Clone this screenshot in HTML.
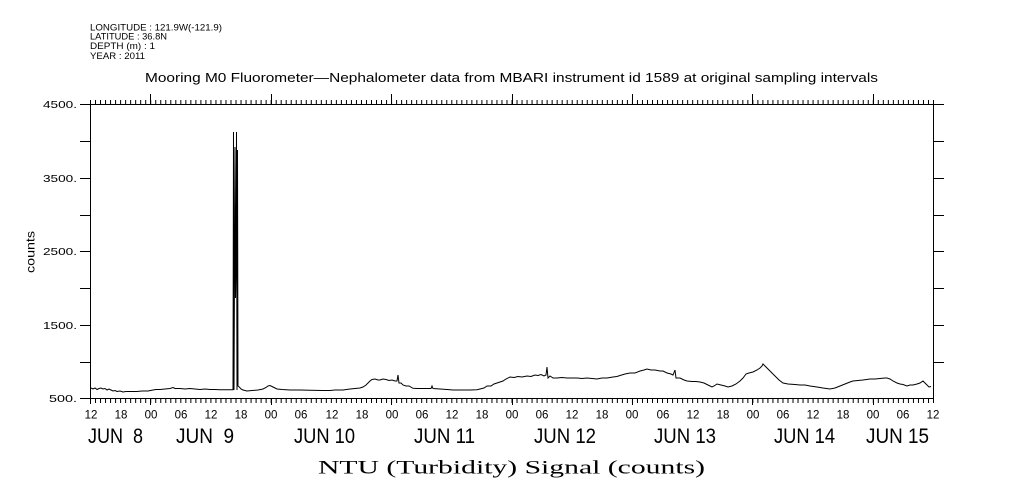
<!DOCTYPE html>
<html><head><meta charset="utf-8"><style>
html,body{margin:0;padding:0;background:#fff;}
svg{display:block;}
text{font-family:"Liberation Sans",sans-serif;fill:#000;}
</style></head><body>
<svg width="1009" height="504" viewBox="0 0 1009 504" xmlns="http://www.w3.org/2000/svg">
<rect width="1009" height="504" fill="#fff"/>
<!-- header -->
<g font-size="9">
<text x="90" y="30.5" textLength="132" lengthAdjust="spacingAndGlyphs">LONGITUDE : 121.9W(-121.9)</text>
<text x="90" y="39.5" textLength="77" lengthAdjust="spacingAndGlyphs">LATITUDE : 36.8N</text>
<text x="90" y="49" textLength="65" lengthAdjust="spacingAndGlyphs">DEPTH (m) : 1</text>
<text x="90" y="59" textLength="55" lengthAdjust="spacingAndGlyphs">YEAR : 2011</text>
</g>
<text x="145" y="82" font-size="12.5" textLength="733" lengthAdjust="spacingAndGlyphs">Mooring M0 Fluorometer—Nephalometer data from MBARI instrument id 1589 at original sampling intervals</text>

<!-- axes box -->
<g stroke="#000" stroke-width="1" fill="none" shape-rendering="crispEdges">
<rect x="90.5" y="104.5" width="843" height="294"/>
<!-- left ticks -->
<path d="M80 104.5H90M80 141.5H90M80 178.5H90M80 215.5H90M80 251.5H90M80 288.5H90M80 325.5H90M80 362.5H90M80 398.5H90"/>
<!-- right ticks -->
<path d="M934 104.5H944M934 141.5H944M934 178.5H944M934 215.5H944M934 251.5H944M934 288.5H944M934 325.5H944M934 362.5H944"/>
<path d="M90.5 398V404M933.5 398V402"/>
<!-- major x ticks top -->
<path d="M150.5 94V104M271.5 94V104M391.5 94V104M512.5 94V104M632.5 94V104M752.5 94V104M873.5 94V104"/>
<!-- major x ticks bottom -->
<path d="M150.5 399V405M271.5 399V405M391.5 399V405M512.5 399V405M632.5 399V405M752.5 399V405M873.5 399V405"/>
</g>
<!-- minor hourly ticks via dash -->
<line x1="90" y1="102" x2="935" y2="102" stroke="#000" stroke-width="4" stroke-dasharray="1 4.0179"/>
<line x1="90" y1="400.5" x2="935" y2="400.5" stroke="#000" stroke-width="5" stroke-dasharray="1 4.0179"/>

<!-- y tick labels -->
<g font-size="10.5" text-anchor="end">
<text x="77" y="108" textLength="34" lengthAdjust="spacingAndGlyphs">4500.</text>
<text x="77" y="182" textLength="34" lengthAdjust="spacingAndGlyphs">3500.</text>
<text x="77" y="255" textLength="34" lengthAdjust="spacingAndGlyphs">2500.</text>
<text x="77" y="329" textLength="34" lengthAdjust="spacingAndGlyphs">1500.</text>
<text x="77" y="402" textLength="28" lengthAdjust="spacingAndGlyphs">500.</text>
</g>
<text transform="translate(34.5,252) rotate(-90)" font-size="12" text-anchor="middle" textLength="42" lengthAdjust="spacingAndGlyphs">counts</text>

<!-- x tick labels -->
<g font-size="11.5" text-anchor="middle">
<text x="91" y="418.5">12</text><text x="121" y="418.5">18</text><text x="151" y="418.5">00</text><text x="181" y="418.5">06</text>
<text x="211" y="418.5">12</text><text x="241" y="418.5">18</text><text x="271" y="418.5">00</text><text x="301" y="418.5">06</text>
<text x="332" y="418.5">12</text><text x="362" y="418.5">18</text><text x="392" y="418.5">00</text><text x="422" y="418.5">06</text>
<text x="452" y="418.5">12</text><text x="482" y="418.5">18</text><text x="512" y="418.5">00</text><text x="542" y="418.5">06</text>
<text x="572" y="418.5">12</text><text x="602" y="418.5">18</text><text x="632" y="418.5">00</text><text x="663" y="418.5">06</text>
<text x="693" y="418.5">12</text><text x="723" y="418.5">18</text><text x="753" y="418.5">00</text><text x="783" y="418.5">06</text>
<text x="813" y="418.5">12</text><text x="843" y="418.5">18</text><text x="873" y="418.5">00</text><text x="903" y="418.5">06</text>
<text x="933" y="418.5">12</text>
</g>
<!-- day labels -->
<g font-size="21">
<text x="88" y="443" textLength="55" lengthAdjust="spacingAndGlyphs" xml:space="preserve">JUN  8</text>
<text x="176" y="443" textLength="58" lengthAdjust="spacingAndGlyphs" xml:space="preserve">JUN  9</text>
<text x="294" y="443" textLength="61" lengthAdjust="spacingAndGlyphs">JUN 10</text>
<text x="414" y="443" textLength="61" lengthAdjust="spacingAndGlyphs">JUN 11</text>
<text x="534" y="443" textLength="62" lengthAdjust="spacingAndGlyphs">JUN 12</text>
<text x="654" y="443" textLength="62" lengthAdjust="spacingAndGlyphs">JUN 13</text>
<text x="774" y="443" textLength="61" lengthAdjust="spacingAndGlyphs">JUN 14</text>
<text x="866" y="443" textLength="63" lengthAdjust="spacingAndGlyphs">JUN 15</text>
</g>
<text x="318" y="473.5" font-size="19" style="font-family:'Liberation Serif',serif" textLength="387" lengthAdjust="spacingAndGlyphs">NTU (Turbidity) Signal (counts)</text>

<!-- data -->
<polyline fill="none" stroke="#000" stroke-width="1" stroke-linejoin="miter" points="
91,388 93,389 95,388 97,389.5 99,388.5 101,388 103,389 105,388.5 107,390 109,389 111,390 113,391 115,390.5 117,391.5 120,391 123,392 126,391.5 130,391.5 134,391.5 137,391.5 142,391 148,391 153,390 156,389.5 160,389.5 165,389 170,388.5 173,387.5 175,388.5 180,388.5 185,389 190,388.5 195,389 200,389.5 205,389 210,389.5 215,389.5 220,389.7 225,389.7 230,389.7 233,389.7
233.5,132 234,390 235,147 235.5,298 236,260 236.5,132 237,390 237.5,150 238,386
239,386.7 241,389 243,390 247,391 252,390.5 258,390 263,389 266,387.5 268,386 270,385.5 272,386.5 275,388 277,389 282,389.5 290,390 300,390 310,390.3 323,390.5 330,390.5 335,390 343,390 350,389 355,388.5 360,388 363,387 366,385 368,383 370,381 372,379.5 375,379 378,380 380,380 383,379 386,379.5 389,380.5 392,380 395,381 397,381 398,375 399,383 401,383 403,385 406,386 409,386 413,388.3 418,388.5 425,388.5 431,388.5 432,386 433,388.5 440,389 447,389.5 453,390 460,390 470,390 477,389.7 480,389 484,388 487,386 491,386 494,384 497,383 500,382 503,381 506,379 510,377 514,377.5 518,376.5 522,377 527,376 531,376.5 535,375 538,375.5 541,374.5 544,376 546,375 547,367 548,378 550,376 553,378 557,378 562,377.5 567,378 572,378 577,378 582,378.5 587,378 592,378.5 597,379 602,378 607,378 610,377.5 613,377 617,376.5 620,375.5 625,374 630,373 635,373 640,371 644,370 647,369 651,370 655,370 660,371 663,371 667,373 671,374 673,375 675,370 676,378 680,378 684,380 687,381 692,381.5 696,381.5 700,382 704,383 708,385 712,387 714,386 717,384 721,385 725,386 728,387 732,386 736,384 740,381 743,378 746,374 749,373 753,372 757,370 760,368 762,366 763,364 765,366 768,369 771,372 773,374 776,377 779,380 783,383 788,384 795,384.5 800,385 805,385 810,386 817,387 823,388 830,389 835,388 840,386 845,384 850,382 853,381 858,380.5 863,380 870,379 875,379 880,378.5 885,378 887,378 890,379 893,381 897,383 900,384 903,384.5 907,386 910,385 913,385 917,384 920,383 923,381 925,383 927,385 929,387 931,386.5"/>
</svg>
</body></html>
